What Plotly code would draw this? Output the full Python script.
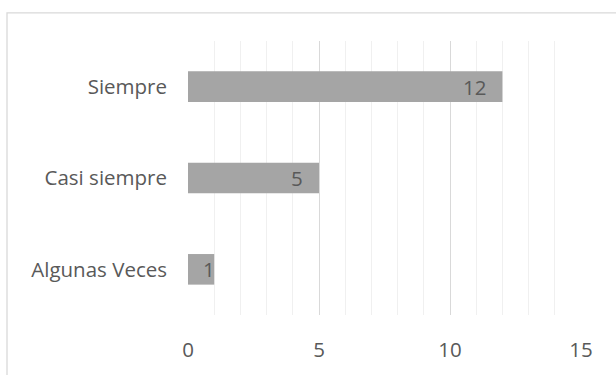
import plotly.graph_objects as go

# Survey response counts
categories = ["Algunas Veces", "Casi siempre", "Siempre"]
counts = [1, 5, 12]
x_ticks = [0, 5, 10, 15]

W, H = 616, 375
L, R, T, B = 188, 35, 41, 57
FONT = "Open Sans"
TXT = "#595959"
FS = 20.5

fig = go.Figure(
    go.Bar(
        y=categories,
        x=counts,
        orientation="h",
        marker=dict(color="#A5A5A5", line=dict(width=0)),
        hoverinfo="skip",
    )
)

# value labels placed just inside the end of each bar
for cat, v in zip(categories, counts):
    fig.add_annotation(
        x=v, y=cat, xref="x", yref="y",
        text=str(v), showarrow=False,
        xanchor="right", xshift=-14 if v >= 2 else 3,
        font=dict(family=FONT, size=FS, color=TXT),
    )

# light frame around the chart area
pw, ph = W - L - R, H - T - B
fig.add_shape(
    type="rect", xref="paper", yref="paper",
    x0=(7 - L) / pw, x1=(W + 10 - L) / pw,
    y0=-(H + 10 - T - ph) / ph, y1=(H - 12.5 - B) / ph,
    line=dict(color="#D9D9D9", width=1.3), fillcolor="rgba(0,0,0,0)",
    layer="below",
)

fig.update_layout(
    width=W, height=H,
    margin=dict(l=L, r=R, t=T, b=B),
    paper_bgcolor="white", plot_bgcolor="white",
    bargap=0.665,
    showlegend=False,
    font=dict(family=FONT, size=FS, color=TXT),
    xaxis=dict(
        range=[0, 15],
        tickvals=x_ticks,
        ticktext=[str(t) for t in x_ticks],
        showgrid=True, gridcolor="#D9D9D9", gridwidth=1.3,
        minor=dict(dtick=1, showgrid=True, gridcolor="#F0F0F0", gridwidth=1.3),
        zeroline=False, showline=False,
        ticks="", ticklabelstandoff=20,
        tickfont=dict(family=FONT, size=FS, color=TXT),
        fixedrange=True,
    ),
    yaxis=dict(
        categoryorder="array", categoryarray=categories,
        showgrid=False, zeroline=False, showline=False,
        ticks="", ticklabelstandoff=20,
        tickfont=dict(family=FONT, size=FS, color=TXT),
        fixedrange=True,
    ),
)

fig.write_html("out.html")
